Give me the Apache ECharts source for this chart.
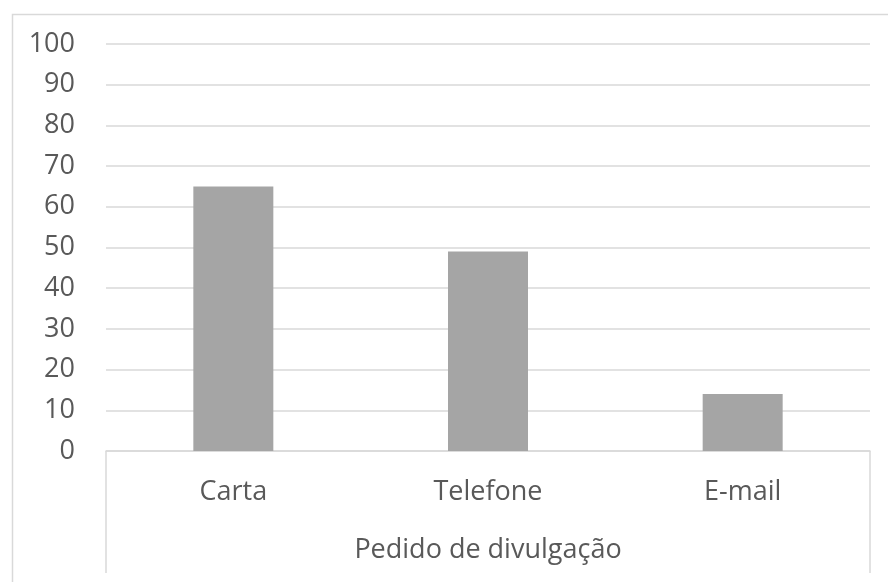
<!DOCTYPE html>
<html>
<head>
<meta charset="utf-8">
<script src="https://cdn.jsdelivr.net/npm/echarts@6/dist/echarts.min.js"></script>
<style>
html, body { margin: 0; padding: 0; background: #fff; }
#chart { width: 888px; height: 582px; }
</style>
</head>
<body>
<div id="chart"></div>
<script>
var categories = ['Carta', 'Telefone', 'E-mail'];
var values = [65, 49, 14];
var groupLabel = ['Pedido de divulgação'];

var myChart = echarts.init(document.getElementById('chart'));
var font = 'Open Sans';
var option = {
  animation: false,
  graphic: [
    {
      type: 'rect',
      left: 10,
      top: 12,
      shape: { width: 900, height: 620 },
      style: { fill: 'none', stroke: '#d9d9d9', lineWidth: 1.5 },
      silent: true
    }
  ],
  grid: {
    left: 106,
    right: 18,
    top: 44,
    bottom: 131
  },
  xAxis: [
    {
      type: 'category',
      data: categories,
      axisLine: { lineStyle: { color: '#d9d9d9', width: 1.5 } },
      axisTick: { show: false },
      axisLabel: { color: '#595959', fontSize: 27, fontFamily: font, margin: 28 }
    },
    {
      type: 'category',
      position: 'bottom',
      data: groupLabel,
      axisLine: { show: false },
      axisTick: { show: true, length: 122, lineStyle: { color: '#d9d9d9', width: 1.5 } },
      axisLabel: { color: '#595959', fontSize: 27, fontFamily: font, margin: 86 }
    }
  ],
  yAxis: {
    type: 'value',
    min: 0,
    max: 100,
    interval: 10,
    axisLine: { show: false },
    axisTick: { show: false },
    splitLine: { lineStyle: { color: '#d9d9d9', width: 1.5 } },
    axisLabel: { color: '#595959', fontSize: 27, fontFamily: font, margin: 31 }
  },
  series: [
    {
      type: 'bar',
      data: values,
      barWidth: 80,
      itemStyle: { color: '#a5a5a5' }
    }
  ]
};
myChart.setOption(option);
</script>
</body>
</html>
